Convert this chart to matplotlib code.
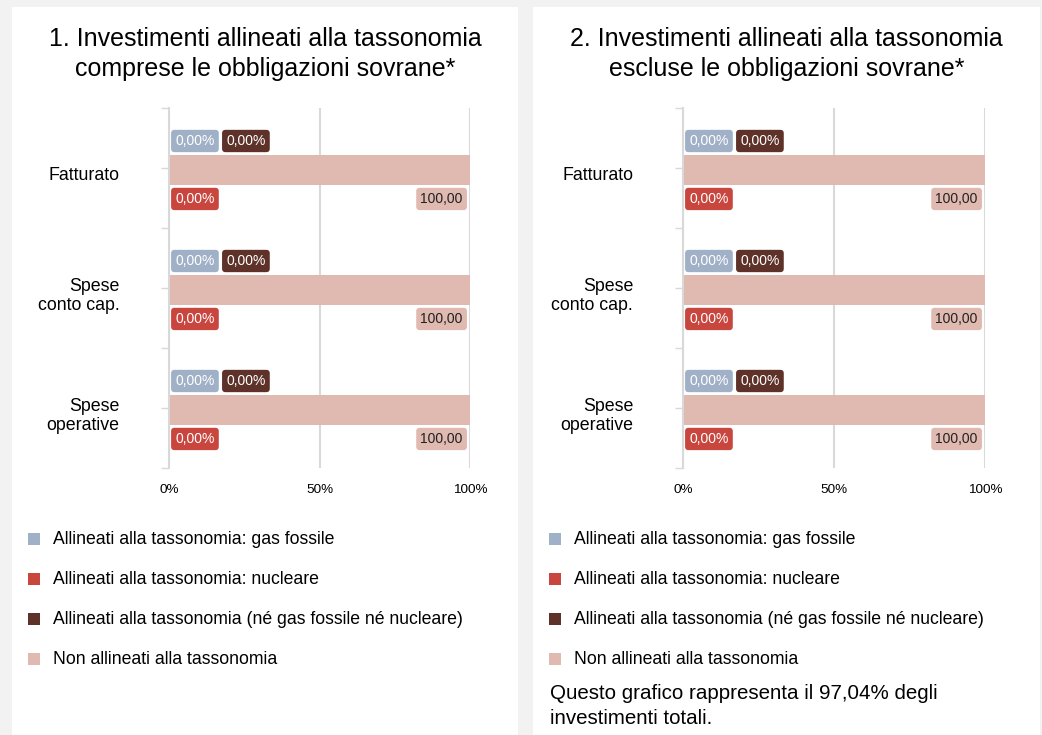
import matplotlib.pyplot as plt
from matplotlib.patches import Rectangle
import numpy as np

plt.rcParams['font.family'] = ['Liberation Sans', 'DejaVu Sans']

categories = ["Fatturato", "Spese\nconto cap.", "Spese\noperative"]
series_names = [
    "Allineati alla tassonomia: gas fossile",
    "Allineati alla tassonomia: nucleare",
    "Allineati alla tassonomia (né gas fossile né nucleare)",
    "Non allineati alla tassonomia",
]
# values per panel: gas, nuclear, neither, not aligned
incl_gas = [0.0, 0.0, 0.0]
incl_nuc = [0.0, 0.0, 0.0]
incl_neither = [0.0, 0.0, 0.0]
incl_non = [100.0, 100.0, 100.0]
excl_gas = [0.0, 0.0, 0.0]
excl_nuc = [0.0, 0.0, 0.0]
excl_neither = [0.0, 0.0, 0.0]
excl_non = [100.0, 100.0, 100.0]

titles = [
    "1. Investimenti allineati alla tassonomia\ncomprese le obbligazioni sovrane*",
    "2. Investimenti allineati alla tassonomia\nescluse le obbligazioni sovrane*",
]
note = "Questo grafico rappresenta il 97,04% degli\ninvestimenti totali."
xtick_vals = [0, 50, 100]
xtick_labels = ["0%", "50%", "100%"]

colors = ["#a0b0c6", "#c9463f", "#5e3129", "#e0b9b0"]
grid_col = "#d9d9d9"

W, H = 1042, 735
fig = plt.figure(figsize=(W / 100, H / 100), dpi=100)
fig.patch.set_facecolor("#f2f2f2")


def fx(px):
    return px / W


def fy(py):
    return 1 - py / H


def fmt(v, pct=True):
    s = f"{v:.2f}".replace(".", ",")
    return s + "%" if pct else s


def label(ax, x, y, text, bg, fg, ha="left", dx=0):
    ax.annotate(text, (x, y), xytext=(dx, 0), textcoords="offset points",
                ha=ha, va="center", fontsize=10, color=fg, zorder=5,
                bbox=dict(boxstyle="round,pad=0.3,rounding_size=0.25",
                          fc=bg, ec="none"))


panels = [
    (12, 518, 169, 470, (incl_gas, incl_nuc, incl_neither, incl_non)),
    (533, 1040, 683, 985, (excl_gas, excl_nuc, excl_neither, excl_non)),
]

for i, (pl, pr, al, ar, data) in enumerate(panels):
    gas, nuc, neither, non = data
    fig.patches.append(Rectangle((fx(pl), 0), fx(pr) - fx(pl), fy(7),
                                 transform=fig.transFigure, fc="white",
                                 ec="none", zorder=-5))
    cx = fx((pl + pr) / 2)
    fig.text(cx, fy(54), titles[i], ha="center", va="center",
             fontsize=18, linespacing=1.35)

    ax = fig.add_axes([fx(al), fy(468), fx(ar) - fx(al), fy(108) - fy(468)])
    ax.set_zorder(3)
    ax.set_facecolor("none")
    y = np.arange(len(categories))
    ax.barh(y - 0.225, gas, height=0.15, color=colors[0])
    ax.barh(y - 0.225, neither, height=0.15, color=colors[2])
    ax.barh(y + 0.017, non, height=0.25, color=colors[3])
    ax.barh(y + 0.258, nuc, height=0.15, color=colors[1])

    for k in range(len(categories)):
        label(ax, gas[k], y[k] - 0.225, fmt(gas[k]), colors[0], "white", dx=4.5)
        label(ax, neither[k], y[k] - 0.225, fmt(neither[k]), colors[2], "white", dx=41.2)
        label(ax, nuc[k], y[k] + 0.258, fmt(nuc[k]), colors[1], "white", dx=4.5)
        label(ax, non[k], y[k] + 0.258, fmt(non[k], pct=False), colors[3], "#222222",
              ha="right", dx=-5.2)

    ax.set_xlim(0, 100)
    ax.set_ylim(2.5, -0.5)
    ax.set_xticks(xtick_vals)
    ax.set_xticklabels(xtick_labels, fontsize=9.7)
    ax.tick_params(axis="x", length=0, pad=11.5)
    ax.xaxis.grid(True, color=grid_col, linewidth=1.5)
    ax.set_axisbelow(True)
    ax.set_yticks(np.arange(-0.5, 3.0, 0.5))
    ax.set_yticklabels([])
    ax.tick_params(axis="y", length=6, color=grid_col, width=1)
    for k, c in enumerate(categories):
        ax.text(-0.165, k + 0.065, c, transform=ax.get_yaxis_transform(),
                ha="right", va="center", fontsize=12.8, linespacing=1.18)
    for s in ["top", "right", "bottom"]:
        ax.spines[s].set_visible(False)
    ax.spines["left"].set_color(grid_col)
    ax.spines["left"].set_linewidth(1.5)

    # legend
    lx = pl + 21
    for j, name in enumerate(series_names):
        ly = 539 + 40 * j
        fig.patches.append(Rectangle((fx(lx - 5), fy(ly + 6)), fx(12), 12 / H,
                                     transform=fig.transFigure, fc=colors[j],
                                     ec="none"))
        fig.text(fx(lx + 20), fy(ly), name, ha="left", va="center", fontsize=12.7)

    if i == 1:
        fig.text(fx(pl + 17), fy(706), note, ha="left", va="center",
                 fontsize=14.75, linespacing=1.45)

fig.savefig("out.png", dpi=100, facecolor=fig.get_facecolor())
